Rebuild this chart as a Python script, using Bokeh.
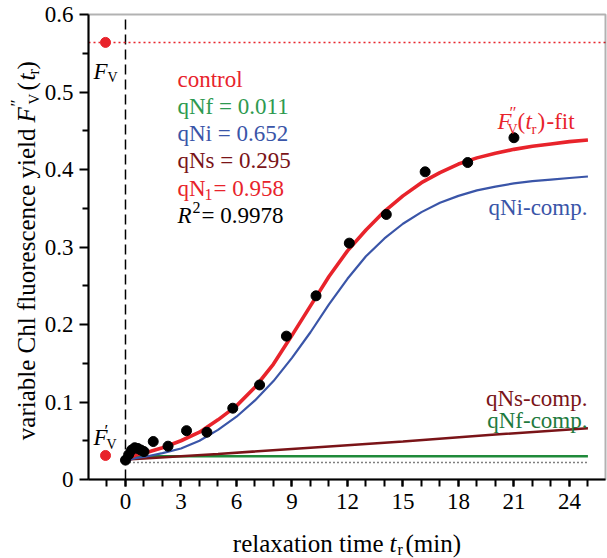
import math
from bokeh.plotting import figure
from bokeh.models import (Range1d, FixedTicker, Label, LinearAxis,
                          BoxAnnotation)
from bokeh.embed import file_html
from bokeh.resources import INLINE

# ---------------- data ----------------
# measured data points (relaxation time in min, variable fluorescence yield)
t_points = [0.0, 0.17, 0.33, 0.5, 0.67, 0.83, 1.0, 1.5, 2.3, 3.3, 4.4, 5.8,
            7.25, 8.7, 10.3, 12.1, 14.1, 16.2, 18.5, 21.0]
f_points = [0.025, 0.032, 0.038, 0.041, 0.040, 0.038, 0.036, 0.049, 0.043,
            0.063, 0.061, 0.092, 0.122, 0.185, 0.237, 0.305, 0.342, 0.397,
            0.409, 0.441]

# reference points Fv and F'v (plotted left of t = 0)
t_ref = [-1.08, -1.08]
f_ref = [0.564, 0.031]
# dotted Fv level and dashed t = 0 marker
t_fv_line = [-2.0, 25.95]
f_fv_line = [0.564, 0.564]
t_zero_line = [0.0, 0.0]
f_zero_line = [0.0, 0.6]

# fitted curve and its components
t_curve = [0, 0.1, 0.3, 0.6, 1, 2, 3, 4, 5, 6, 7, 8, 9, 10, 11, 12, 13, 14,
           15, 16, 17, 18, 19, 20, 21, 22, 23, 24, 25]
fit_total = [0.022, 0.026, 0.029, 0.032, 0.034, 0.041, 0.050, 0.061, 0.077,
             0.095, 0.119, 0.149, 0.186, 0.224, 0.262, 0.295, 0.322, 0.346,
             0.366, 0.383, 0.396, 0.407, 0.415, 0.421, 0.426, 0.430, 0.433,
             0.436, 0.438]
comp_qni = [0.022, 0.024, 0.026, 0.028, 0.029, 0.034, 0.040, 0.050, 0.064,
            0.081, 0.102, 0.127, 0.157, 0.190, 0.226, 0.259, 0.288, 0.311,
            0.330, 0.345, 0.357, 0.366, 0.373, 0.378, 0.382, 0.385, 0.387,
            0.389, 0.391]
t_qns = [0, 0.3, 1, 5, 10, 15, 20, 25]
comp_qns = [0.022, 0.026, 0.027, 0.033, 0.041, 0.049, 0.058, 0.066]
t_qnf = [0, 0.2, 0.5, 25]
comp_qnf = [0.022, 0.028, 0.030, 0.030]
t_base = [0, 25]
f_base = [0.022, 0.022]

x_ticks = [0, 3, 6, 9, 12, 15, 18, 21, 24]
x_minor = list(range(-1, 26))
y_ticks = [0, 0.1, 0.2, 0.3, 0.4, 0.5, 0.6]
y_tick_labels = ["0", "0.1", "0.2", "0.3", "0.4", "0.5", "0.6"]
y_minor = [0.05, 0.15, 0.25, 0.35, 0.45, 0.55]

# ---------------- styling / layout ----------------
RED = "#e8232b"
BLUE = "#3a55a8"
DRED = "#7a1418"
GREEN_L = "#1f8a3a"
GREEN_T = "#2e9a50"
GREEN_T2 = "#1e7a3e"
FONT = "Liberation Serif"

CANVAS_W, CANVAS_H = 607, 558
BOX_L, BOX_R, BOX_T, BOX_B = 88, 605, 14, 479   # page pixels of the plot box
X_LO, X_HI = -2.0, 25.95
Y_LO, Y_HI = 0.0, 0.6
SX = (BOX_R - BOX_L) / (X_HI - X_LO)
SY = (BOX_B - BOX_T) / (Y_HI - Y_LO)

p = figure(width=CANVAS_W, height=CANVAS_H,
           x_range=Range1d(X_LO - BOX_L / SX, X_HI + (CANVAS_W - BOX_R) / SX),
           y_range=Range1d(Y_LO - (CANVAS_H - BOX_B) / SY, Y_HI + BOX_T / SY),
           x_axis_location=None, y_axis_location=None,
           output_backend="svg", toolbar_location=None,
           min_border=0, min_border_left=0, min_border_right=0,
           min_border_top=0, min_border_bottom=0)
for g in p.grid:
    g.visible = False
p.outline_line_color = None
p.background_fill_color = "white"
p.border_fill_color = "white"

xaxis = LinearAxis(fixed_location=Y_LO, bounds=(X_LO, X_HI),
                   ticker=FixedTicker(ticks=x_ticks, minor_ticks=x_minor))
yaxis = LinearAxis(fixed_location=X_LO, bounds=(Y_LO, Y_HI),
                   ticker=FixedTicker(ticks=y_ticks, minor_ticks=y_minor))
for ax in (xaxis, yaxis):
    ax.axis_line_width = 2
    ax.major_tick_line_width = 2
    ax.minor_tick_line_width = 2
    ax.major_tick_in = 0
    ax.minor_tick_in = 0
    ax.major_label_text_font = FONT
    ax.major_label_text_font_size = "23px"
    ax.major_label_text_color = "black"
xaxis.major_tick_out = 7
xaxis.minor_tick_out = 7
xaxis.major_label_standoff = 7
yaxis.major_label_overrides = {v: s for v, s in zip(y_ticks, y_tick_labels)}
yaxis.major_tick_out = 9
yaxis.minor_tick_out = 6
yaxis.major_label_standoff = 6
p.add_layout(xaxis, "below")
p.add_layout(yaxis, "left")

# plot box
p.add_layout(BoxAnnotation(left=X_LO, right=X_HI, bottom=Y_LO, top=Y_HI,
                           fill_alpha=0, line_color="black", line_width=2,
                           level="overlay"))

# reference lines
p.line(t_zero_line, f_zero_line, line_color="black", line_width=1.5,
       line_dash="10 5")
p.line(t_fv_line, f_fv_line, line_color=RED, line_width=1.5, line_dash="2 3")
p.line(t_base, f_base, line_color="black", line_width=1.5, line_dash="1 3")

# curves
p.line(t_qnf, comp_qnf, line_color=GREEN_L, line_width=2.5)
p.line(t_qns, comp_qns, line_color=DRED, line_width=2.5)
p.line(t_curve, comp_qni, line_color=BLUE, line_width=2.2)
p.line(t_curve, fit_total, line_color=RED, line_width=3.6)

# points
p.scatter(t_points, f_points, size=10, color="black")
p.scatter(t_ref, f_ref, size=10, color=RED)


# ---------------- text (positions in page pixels) ----------------
def dx(px):
    return X_LO + (px - BOX_L) / SX


def dy(py):
    return Y_LO + (BOX_B - py) / SY


def txt(s, px, py, color="black", size=23, style="normal", align="left",
        angle=0.0):
    p.add_layout(Label(x=dx(px), y=dy(py), text=s, text_color=color,
                       text_font=FONT, text_font_size=f"{size}px",
                       text_font_style=style, text_align=align,
                       text_baseline="alphabetic", angle=angle))


# parameter block
txt("control", 177, 79, RED)
txt("qNf = 0.011", 177, 106, GREEN_T)
txt("qNi = 0.652", 177, 133, BLUE)
txt("qNs = 0.295", 177, 160, DRED)
txt("qN", 177, 188, RED)
txt("1", 204, 194, RED, size=16)
txt("= 0.958", 213, 188, RED)
txt("R", 177, 215, "black", style="italic")
txt("2", 192, 207, "black", size=16)
txt("= 0.9978", 201, 215, "black")

# Fv and F'v markers
txt("F", 93, 71, "black", style="italic")
txt("V", 107, 77, "black", size=14)
txt("F", 93, 437, "black", style="italic")
txt("\u2032", 104, 430, "black", size=17)
txt("V", 106, 444, "black", size=14)

# curve labels
txt("F", 497, 121, RED, style="italic")
txt("\u2033", 509, 112, RED, size=17)
txt("V", 507, 129, RED, size=14)
txt("(", 517, 121, RED)
txt("t", 525, 121, RED, style="italic")
txt("r", 531, 128, RED, size=15)
txt(")", 537, 121, RED)
txt("-fit", 546, 121, RED)
txt("qNi-comp.", 587, 207, BLUE, align="right")
txt("qNs-comp.", 587, 398, DRED, align="right")
txt("qNf-comp.", 587, 420, GREEN_T2, align="right")

# x-axis title
txt("relaxation time", 383, 543, "black", size=25, align="right")
txt("t", 389, 543, "black", size=25, style="italic")
txt("r", 397, 549, "black", size=16)
txt("(min)", 405, 543, "black", size=25)

# y-axis title (rotated)
A = math.pi / 2
txt("variable Chl fluorescence yield", 26, 128, "black", size=25,
    align="right", angle=A)
txt("F", 26, 122, "black", size=25, style="italic", angle=A)
txt("\u2033", 16, 106, "black", size=17, angle=A)
txt("V", 33, 104, "black", size=15, angle=A)
txt("(", 26, 90, "black", size=25, angle=A)
txt("t", 26, 80, "black", size=25, style="italic", angle=A)
txt("r", 33, 74, "black", size=16, angle=A)
txt(")", 26, 69, "black", size=25, angle=A)

open("out.html", "w").write(file_html(p, INLINE))
